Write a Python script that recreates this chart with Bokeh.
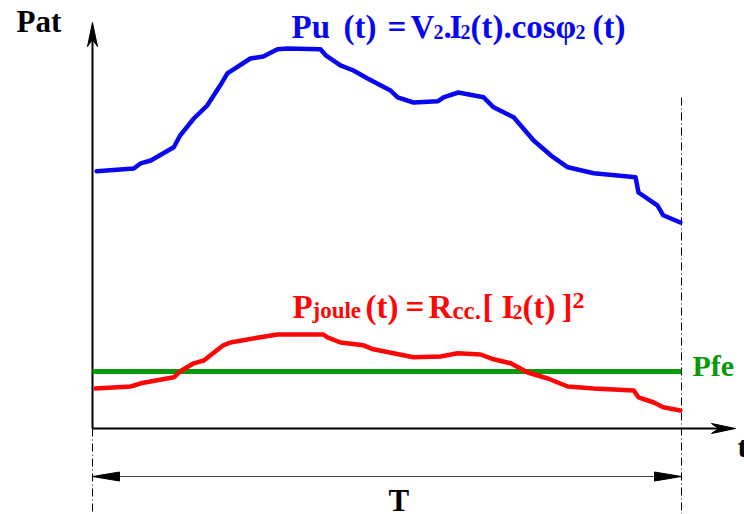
from bokeh.plotting import figure
from bokeh.models import Range1d, Label
from bokeh.embed import file_html
from bokeh.resources import INLINE

# ---------------- data (time in % of period T, power in arbitrary units) ----------------
t_pu = [0.7, 7.0, 8.2, 9.9, 13.8, 14.9, 17.2, 19.5, 21.7, 22.9, 26.8, 29.0, 31.4, 33.1,
        38.7, 39.6, 42.1, 44.3, 46.7, 48.9, 50.6, 51.8, 54.5, 58.6, 59.6, 62.1, 66.4,
        68.1, 71.5, 74.9, 77.8, 80.7, 85.1, 92.2, 92.7, 95.9, 96.9, 99.8]
p_pu = [64.3, 65.0, 66.3, 67.0, 70.3, 73.3, 77.5, 80.8, 85.8, 88.8, 92.5, 93.0, 94.8, 95.0,
        94.8, 93.3, 90.8, 89.5, 87.5, 85.8, 84.5, 82.8, 81.5, 81.8, 82.8, 84.0, 82.8,
        80.3, 77.8, 72.0, 68.3, 65.3, 63.8, 62.8, 59.0, 55.8, 53.3, 51.5]

t_pj = [0.5, 6.5, 8.2, 13.8, 14.9, 17.2, 18.9, 22.2, 23.4, 28.5, 31.4, 39.2, 39.9, 42.1,
        46.0, 47.7, 51.1, 54.5, 59.1, 62.0, 65.9, 68.1, 71.0, 73.9, 77.3, 80.7, 85.1,
        91.9, 92.7, 95.3, 96.9, 99.8]
p_pj = [10.0, 10.5, 11.3, 12.8, 14.3, 16.3, 17.0, 20.8, 21.5, 22.8, 23.5, 23.5, 22.8, 21.5,
        20.8, 19.8, 18.8, 17.8, 18.0, 18.8, 18.5, 17.3, 16.3, 14.0, 12.5, 10.5, 10.0,
        9.5, 7.8, 6.5, 5.3, 4.5]

pfe_level = 14.25
period_T = 100.0

# ---------------- geometry helpers ----------------
W, H = 744, 514
PX0, SX = 92.0, 5.89     # canvas pixel of t = 0, pixels per time unit
PY0, SY = 428.0, 4.0     # canvas pixel of P = 0, pixels per power unit


def X(px):
    return (px - PX0) / SX


def Y(py):
    return (PY0 - py) / SY


def dx(pixels):
    return pixels / SX


def dy(pixels):
    return pixels / SY


x_axis_end = X(735)
y_axis_top = Y(22)
t_arrow_level = Y(476)

p = figure(width=W, height=H, output_backend="svg", toolbar_location=None,
           x_range=Range1d(X(0), X(W)), y_range=Range1d(Y(H), Y(0)),
           x_axis_location=None, y_axis_location=None, min_border=0)
p.grid.visible = False
p.outline_line_color = None
p.background_fill_color = "white"
p.border_fill_color = "white"

SERIF = "Liberation Serif"

# axes
p.line([0, 0], [0, y_axis_top - dy(12)], line_color="black", line_width=2)
p.line([0, x_axis_end - dx(12)], [0, 0], line_color="black", line_width=2)
# axis arrow heads (narrow vees)
L, HW, N = 24, 5, 7
p.patch([0, -dx(HW), 0, dx(HW)],
        [y_axis_top, y_axis_top - dy(L), y_axis_top - dy(L - N), y_axis_top - dy(L)],
        color="black", line_width=1)
p.patch([x_axis_end, x_axis_end - dx(L), x_axis_end - dx(L - N), x_axis_end - dx(L)],
        [0, dy(HW), 0, -dy(HW)], color="black", line_width=1)

# dash-dot period markers
p.line([0, 0], [0, Y(H)], line_color="black", line_width=1, line_dash="8 3 1 3")
p.line([period_T, period_T], [Y(97), Y(H)], line_color="black", line_width=1,
       line_dash="8 3 1 3")

# T double arrow
p.line([0, period_T], [t_arrow_level, t_arrow_level], line_color="#444444", line_width=1)
HL, HHW = 27, 4.5
p.patch([0, dx(HL), dx(HL)],
        [t_arrow_level, t_arrow_level + dy(HHW), t_arrow_level - dy(HHW)], color="black")
p.patch([period_T, period_T - dx(HL), period_T - dx(HL)],
        [t_arrow_level, t_arrow_level + dy(HHW), t_arrow_level - dy(HHW)], color="black")

BLUE, RED, GREEN = "#0808f0", "#ff0606", "#0a990a"

# curves
p.line([0, period_T], [pfe_level, pfe_level], line_color=GREEN, line_width=5)
p.line(t_pu, p_pu, line_color=BLUE, line_width=4.5, line_join="round", line_cap="round")
p.line(t_pj, p_pj, line_color=RED, line_width=4.5, line_join="round", line_cap="round")


def lab(px, baseline, text, size, color):
    # place by the visual middle of the glyphs so the alphabetic baseline lands on `baseline`
    p.add_layout(Label(x=X(px), y=Y(baseline - 0.34 * size), text=text, text_font=SERIF,
                       text_font_size=f"{size}px", text_font_style="bold",
                       text_color=color, text_baseline="middle", text_align="left"))


MAIN, SUB = 33, 20

lab(16, 32, "Pat", 31, "black")

# blue formula
B1 = 38
lab(291, B1, "Pu", MAIN, BLUE)
lab(343, B1, "(t)", MAIN, BLUE)
lab(387, B1, "=", MAIN, BLUE)
lab(410, B1, "V", MAIN, BLUE)
lab(433, B1, "2", SUB, BLUE)
lab(443, B1, ".", MAIN, BLUE)
lab(449, B1, "I", MAIN, BLUE)
lab(460, B1, "2", SUB, BLUE)
lab(470, B1, "(t).cos", MAIN, BLUE)
lab(555, B1, "φ", MAIN, BLUE)
lab(575, B1, "2", SUB, BLUE)
lab(592, B1, "(t)", MAIN, BLUE)

# red formula
B2 = 318
lab(292, B2, "P", MAIN, RED)
lab(312, B2, "joule", 23, RED)
lab(365, B2, "(t)", MAIN, RED)
lab(405, B2, "=", MAIN, RED)
lab(428, B2, "R", MAIN, RED)
lab(452, B2, "cc.", 25, RED)
lab(482, B2, "[", MAIN, RED)
lab(501, B2, "I", MAIN, RED)
lab(512, B2, "2", SUB, RED)
lab(522, B2, "(t)", MAIN, RED)
lab(561, B2, "]", MAIN, RED)
lab(572, 308, "2", 24, RED)

lab(692, 375, "Pfe", 30, GREEN)
lab(737, 456, "t", 30, "black")
lab(388, 511, "T", 31, "black")

open("out.html", "w").write(file_html(p, INLINE))
